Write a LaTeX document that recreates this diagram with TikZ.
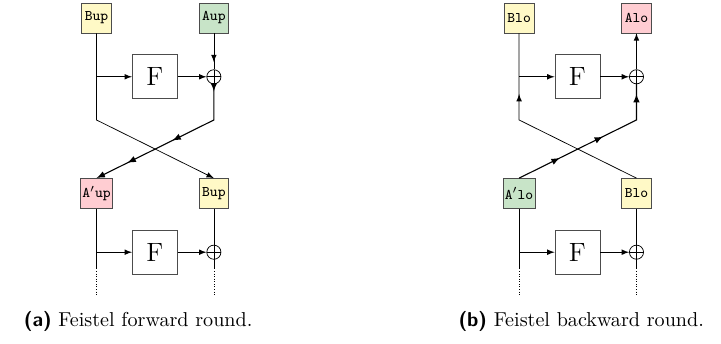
\documentclass[tikz,border=0pt]{standalone}
\usepackage{amsmath}
\usepackage{tikz}
\usetikzlibrary{arrows, positioning, decorations.markings}

\definecolor{bcol}{RGB}{255,249,198}
\definecolor{acol}{RGB}{200,228,200}
\definecolor{apcol}{RGB}{255,205,210}

\begin{document}
\begin{tikzpicture}[blk/.style={rectangle, draw=black!70, minimum size=0.57cm, inner sep=1pt, font=\fontsize{8}{9.5}\ttfamily},
        fbox/.style={rectangle, draw=black!70, minimum width=0.86cm, minimum height=0.84cm, font=\Large},
        xor/.style={circle, draw, minimum size=0.27cm, inner sep=0pt,
            path picture={\draw (path picture bounding box.north) -- (path picture bounding box.south)
                (path picture bounding box.west) -- (path picture bounding box.east);}},
        arrowat/.style={postaction={decorate, decoration={markings, mark=at position #1 with {\arrow{latex}}}}},
        captext/.style={anchor=base west, inner sep=0pt, font=\fontsize{10.95}{13.6}\selectfont},
        node distance=1cm, >=latex]
        \useasboundingbox (0,0) rectangle (13.785,-6.577);

        % (a) forward round
        \node[blk, fill=bcol] (bup) at (1.845,-0.344) {Bup};
        \node[blk, fill=acol] (aup) [right = 1.66cm of bup] {Aup};
        \node[xor] (xup) [below = 0.69cm of aup] {};
        \node[fbox] (fup) [left = 0.55cm of xup] {F};
        \node[blk, fill=apcol] (aup2) [below = 2.77cm of bup] {A$'$up};
        \node[blk, fill=bcol] (bup2) [below = 2.77cm of aup] {Bup};
        \node[xor] (xup2) [below = 0.69cm of bup2] {};
        \node[fbox] (fup2) [left = 0.55cm of xup2] {F};
        \coordinate[below = 1.95cm of bup.center] (cupl);
        \coordinate[below = 1.95cm of aup.center] (cupr);
        \coordinate[below = 0.31cm of xup2.center] (eup);
        \coordinate[below = 0.84cm of xup2.center] (dup);

        \draw[->] (bup |- fup) -- (fup);
        \draw[->] (fup) -- (xup);
        \draw[arrowat=0.8] (aup) -- (xup);
        \draw[->] (bup) -- (cupl) -- (bup2.north);
        \draw[->, semithick, arrowat=0.14cm, arrowat=1.57cm, arrowat=2.53cm] (xup) -- (cupr) -- (aup2.north);
        \draw (aup2) -- (aup2 |- eup);
        \draw (bup2) -- (bup2 |- eup);
        \draw[->] (aup2 |- fup2) -- (fup2);
        \draw[->] (fup2) -- (xup2);
        \draw[densely dotted] (aup2 |- eup) -- (aup2 |- dup);
        \draw[densely dotted] (bup2 |- eup) -- (bup2 |- dup);

        % (b) backward round
        \begin{scope}[xshift=8.08cm]
        \node[blk, fill=bcol] (blo) at (1.845,-0.344) {Blo};
        \node[blk, fill=apcol] (alo) [right = 1.66cm of blo] {Alo};
        \node[xor] (xlo) [below = 0.69cm of alo] {};
        \node[fbox] (flo) [left = 0.55cm of xlo] {F};
        \node[blk, fill=acol] (alo2) [below = 2.77cm of blo] {A$'$lo};
        \node[blk, fill=bcol] (blo2) [below = 2.77cm of alo] {Blo};
        \node[xor] (xlo2) [below = 0.69cm of blo2] {};
        \node[fbox] (flo2) [left = 0.55cm of xlo2] {F};
        \coordinate[below = 1.95cm of blo.center] (clol);
        \coordinate[below = 1.95cm of alo.center] (clor);
        \coordinate[below = 0.31cm of xlo2.center] (elo);
        \coordinate[below = 0.84cm of xlo2.center] (dlo);

        \draw[->] (blo |- flo) -- (flo);
        \draw[->] (flo) -- (xlo);
        \draw[->] (xlo) -- (alo);
        \draw[arrowat=3.0cm] (blo2.north) -- (clol) -- (blo);
        \draw[semithick, arrowat=0.87cm, arrowat=1.79cm, arrowat=3.0cm] (alo2.north) -- (clor) -- (xlo);
        \draw (alo2) -- (alo2 |- elo);
        \draw (blo2) -- (blo2 |- elo);
        \draw[->] (alo2 |- flo2) -- (flo2);
        \draw[->] (flo2) -- (xlo2);
        \draw[densely dotted] (alo2 |- elo) -- (alo2 |- dlo);
        \draw[densely dotted] (blo2 |- elo) -- (blo2 |- dlo);
        \end{scope}

        % captions
        \node[captext] (capa) at (0.45,-6.252) {\textsf{\textbf{(a)}} Feistel forward round.};
        \node[captext] (capb) at (8.76,-6.252) {\textsf{\textbf{(b)}} Feistel backward round.};
\end{tikzpicture}
\end{document}
